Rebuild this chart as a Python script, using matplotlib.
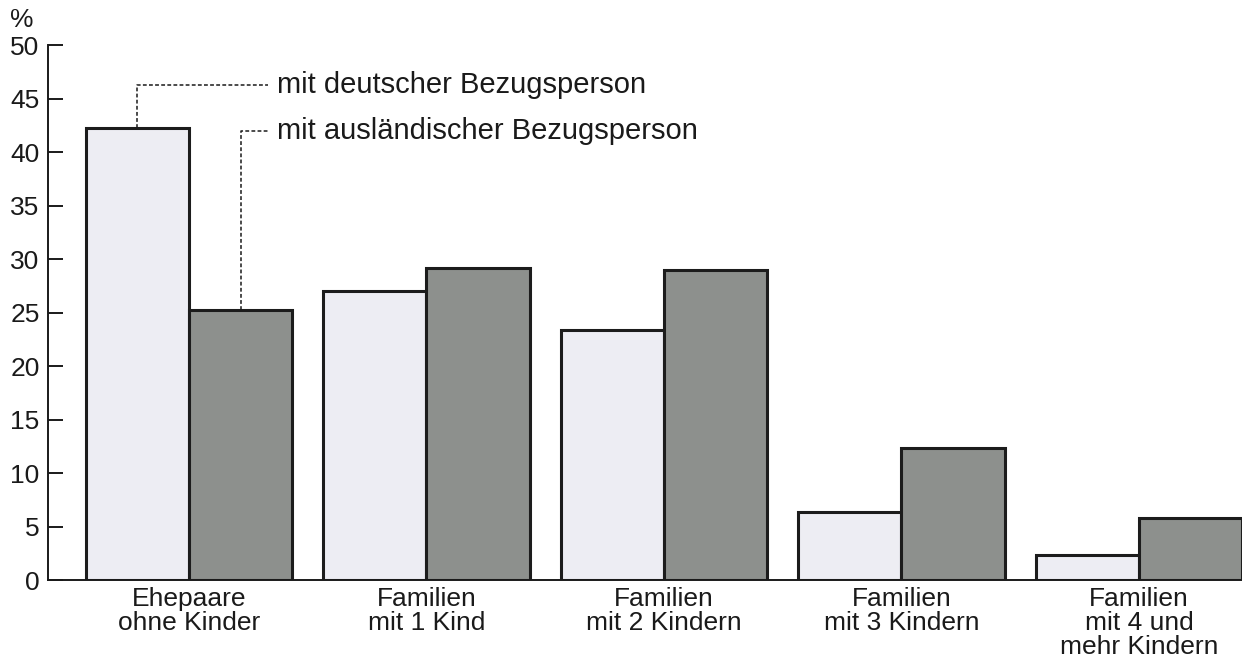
import matplotlib.pyplot as plt
import numpy as np

plt.rcParams['font.family'] = ['Liberation Sans', 'DejaVu Sans']

categories = ['Ehepaare\nohne Kinder', 'Familien\nmit 1 Kind', 'Familien\nmit 2 Kindern',
              'Familien\nmit 3 Kindern', 'Familien\nmit 4 und\nmehr Kindern']
deutsch = [42.2, 27.0, 23.4, 6.4, 2.3]
auslaendisch = [25.2, 29.2, 29.0, 12.3, 5.8]
series_labels = ['mit deutscher Bezugsperson', 'mit ausländischer Bezugsperson']

light = '#ededf3'
dark = '#8d908d'
edge = '#1c1c1c'
txt = '#1a1a1a'
width = 0.434

fig = plt.figure(figsize=(12.42, 6.6), dpi=100)
ax = fig.add_axes([0.0386, 0.1212, 0.9614, 0.8106])

x = np.arange(len(categories))
b1 = ax.bar(x - width / 2, deutsch, width, color=light, edgecolor=edge, linewidth=2.2, zorder=2)
b2 = ax.bar(x + width / 2, auslaendisch, width, color=dark, edgecolor=edge, linewidth=2.2, zorder=2)

ax.set_xlim(-0.594, 4.434)
ax.set_ylim(0, 50)
ax.set_yticks(range(0, 51, 5))
ax.set_xticks(x)
ax.set_xticklabels(categories, fontsize=19, linespacing=1.0, color=txt)
ax.tick_params(axis='x', length=0, pad=5)
ax.tick_params(axis='y', direction='in', length=11, width=1.4, labelsize=19,
               pad=6, colors=txt)

for s in ['top', 'right']:
    ax.spines[s].set_visible(False)
for s in ['left', 'bottom']:
    ax.spines[s].set_linewidth(1.4)
    ax.spines[s].set_color(txt)
ax.spines['left'].set_bounds(0, 50)

fig.text(10 / 1242, 1 - 8 / 660, '%', fontsize=19, ha='left', va='top', color=txt)

# Beschriftung mit gestrichelten Linien
line_x_end = 0.333
text_x = 0.372
for bar, val, ly, label in [(b1[0], deutsch[0], 46.3, series_labels[0]),
                             (b2[0], auslaendisch[0], 42.0, series_labels[1])]:
    cx = bar.get_x() + bar.get_width() / 2
    ax.plot([cx, cx, line_x_end], [val, ly, ly], ls=(0, (2.5, 1.5)), lw=1.1, color=txt,
            clip_on=False)
    ax.text(text_x, ly, label, fontsize=21, va='center', ha='left', color=txt)

plt.savefig('out.png', dpi=100)
